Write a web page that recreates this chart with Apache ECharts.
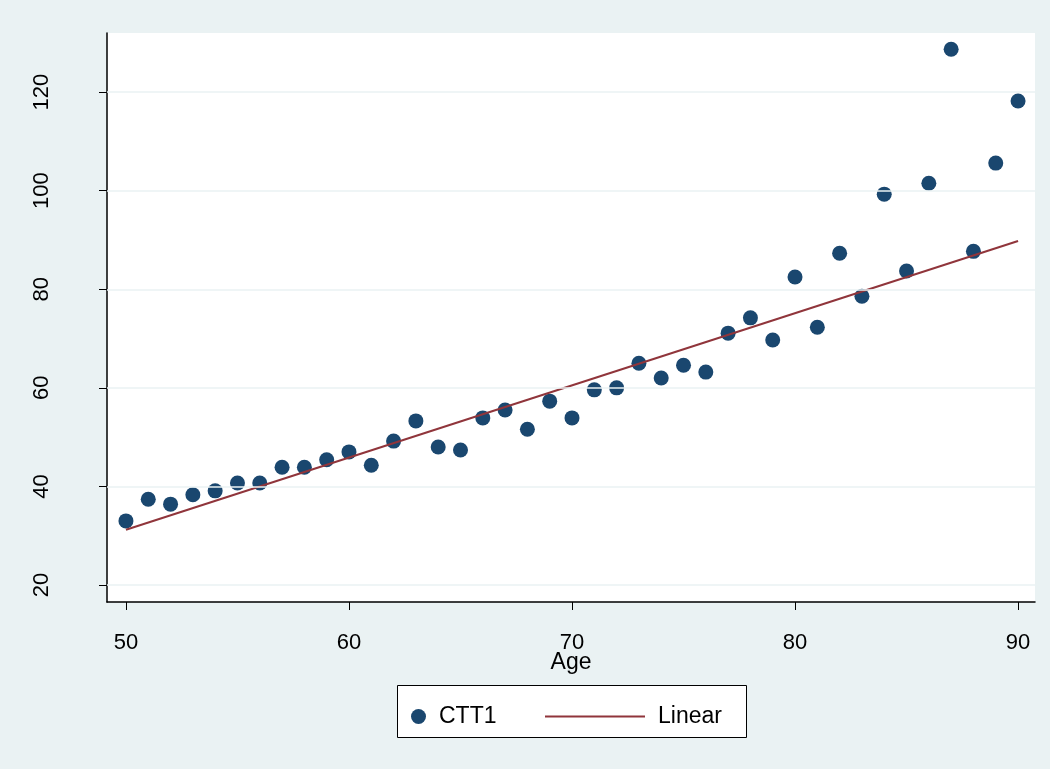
<!DOCTYPE html>
<html>
<head>
<meta charset="utf-8">
<script src="https://cdn.jsdelivr.net/npm/echarts@6/dist/echarts.min.js"></script>
<style>html,body{margin:0;padding:0;background:#eaf2f3}#c{width:1050px;height:769px}</style>
</head>
<body>
<div id="c"></div>
<script>
var ages = [50,51,52,53,54,55,56,57,58,59,60,61,62,63,64,65,66,67,68,69,70,71,72,73,74,75,76,77,78,79,80,81,82,83,84,85,86,87,88,89,90];
var ctt1 = [33.0,37.4,36.4,38.3,39.1,40.7,40.7,43.9,43.9,45.4,47.0,44.3,49.2,53.3,48.0,47.4,53.9,55.5,51.6,57.3,53.9,59.6,60.0,65.0,62.0,64.6,63.2,71.1,74.2,69.7,82.5,72.3,87.3,78.6,99.3,83.7,101.5,128.7,87.7,105.6,118.2];
var linearEnds = [[50,31.2],[90,89.8]];
var xTicks = [50,60,70,80,90];
var yTicks = [20,40,60,80,100,120];

var pts = ages.map(function (a, i) { return [a, ctt1[i]]; });
var font = 'Liberation Sans, Arial, sans-serif';
var legendText = { fontSize: 23, color: '#000', fontFamily: font, padding: [0, 0, 0, 8] };

var myChart = echarts.init(document.getElementById('c'));
myChart.setOption({
	backgroundColor: '#eaf2f3',
	animation: false,
	grid: { left: 107, right: 15, top: 33, bottom: 167, show: true, backgroundColor: '#ffffff', borderWidth: 0 },
	graphic: [{
		type: 'rect', left: 397, top: 685, z: 0,
		shape: { width: 349, height: 52 },
		style: { fill: '#fff', stroke: '#000', lineWidth: 1 }
	}],
	xAxis: {
		type: 'value', min: 49.15, max: 90.76,
		name: 'Age', nameLocation: 'middle', nameGap: 49, nameMoveOverlap: false,
		nameTextStyle: { fontSize: 23, color: '#000', fontFamily: font },
		axisLine: { show: true, lineStyle: { color: '#000', width: 1.5 } },
		axisTick: { show: true, length: 8, customValues: xTicks, lineStyle: { color: '#000' } },
		axisLabel: { customValues: xTicks, fontSize: 22, color: '#000', fontFamily: font, margin: 30 },
		splitLine: { show: false }
	},
	yAxis: {
		type: 'value', min: 16.55, max: 132,
		axisLine: { show: true, lineStyle: { color: '#000', width: 1.5 } },
		axisTick: { show: true, length: 8, customValues: yTicks, lineStyle: { color: '#000' } },
		axisLabel: { customValues: yTicks, fontSize: 22, color: '#000', fontFamily: font, rotate: 90, margin: 54 },
		splitLine: { show: false }
	},
	legend: [
		{
			left: 406, top: 700, itemGap: 0, itemWidth: 15, itemHeight: 15,
			textStyle: legendText,
			data: [{ name: 'CTT1', icon: 'circle', itemStyle: { color: '#1a476f' } }]
		},
		{
			left: 540, top: 700, itemGap: 0, itemWidth: 100, itemHeight: 2,
			textStyle: legendText,
			data: [{ name: 'Linear', icon: 'rect', itemStyle: { color: '#90353b' } }]
		}
	],
	series: [
		{
			name: 'GridLines', type: 'line', data: [], silent: true,
			markLine: {
				symbol: 'none', silent: true, label: { show: false },
				lineStyle: { color: '#eaf2f3', type: 'solid', width: 1.5 },
				data: yTicks.map(function (v) { return { yAxis: v }; })
			}
		},
		{
			name: 'CTT1', type: 'scatter', data: pts, symbolSize: 15,
			itemStyle: { color: '#1a476f', opacity: 1 }
		},
		{
			name: 'Linear', type: 'line', data: linearEnds, symbol: 'none',
			lineStyle: { color: '#90353b', width: 2 }, itemStyle: { color: '#90353b' }
		}
	]
});
</script>
</body>
</html>
